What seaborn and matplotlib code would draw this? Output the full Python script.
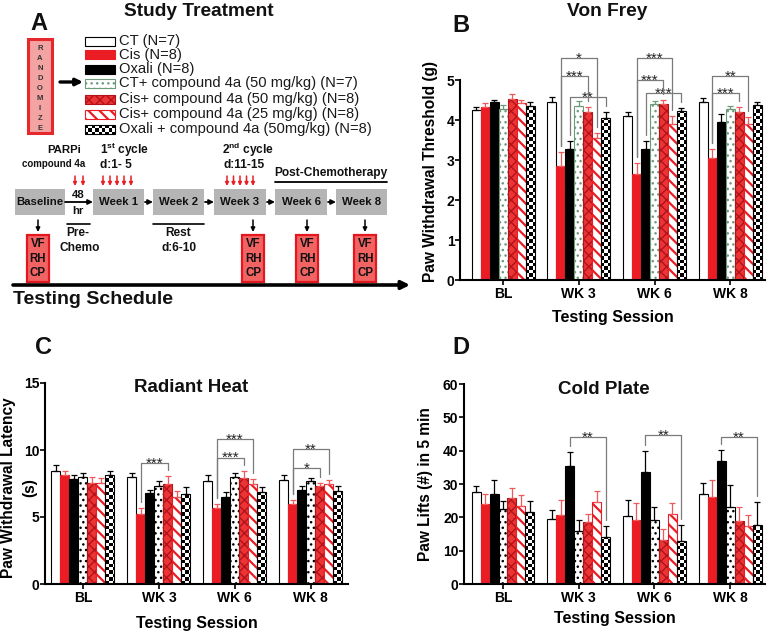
import math
import numpy as np
import pandas as pd
import matplotlib.pyplot as plt
from matplotlib.patches import Rectangle
import seaborn as sns

sessions = ["BL", "WK 3", "WK 6", "WK 8"]
groups = ["CT (N=7)", "Cis (N=8)", "Oxali (N=8)",
          "CT+ compound 4a (50 mg/kg) (N=7)",
          "Cis+ compound 4a (50 mg/kg) (N=8)",
          "Cis+ compound 4a (25 mg/kg) (N=8)",
          "Oxali + compound 4a (50mg/kg) (N=8)"]

# one row per session, one column per group
vf_mean = [[4.25, 4.32, 4.45, 4.27, 4.53, 4.42, 4.35],
           [4.46, 2.85, 3.27, 4.35, 4.20, 3.55, 4.06],
           [4.10, 2.65, 3.27, 4.40, 4.40, 3.90, 4.22],
           [4.44, 3.05, 3.96, 4.28, 4.20, 3.90, 4.38]]
vf_sem = [[0.08, 0.10, 0.05, 0.10, 0.11, 0.08, 0.09],
          [0.12, 0.35, 0.20, 0.13, 0.13, 0.12, 0.13],
          [0.10, 0.27, 0.20, 0.07, 0.10, 0.20, 0.08],
          [0.10, 0.22, 0.20, 0.06, 0.12, 0.17, 0.08]]
rh_mean = [[8.45, 8.10, 7.85, 8.00, 7.55, 7.55, 8.10],
           [8.00, 5.25, 6.80, 7.35, 7.50, 6.50, 6.75],
           [7.70, 5.65, 6.50, 8.00, 7.90, 7.50, 6.90],
           [7.75, 5.95, 7.00, 7.65, 7.35, 7.50, 6.95]]
rh_sem = [[0.40, 0.35, 0.30, 0.30, 0.40, 0.35, 0.30],
          [0.30, 0.40, 0.20, 0.35, 0.55, 0.45, 0.50],
          [0.40, 0.35, 0.35, 0.30, 0.50, 0.30, 0.35],
          [0.35, 0.35, 0.30, 0.25, 0.20, 0.25, 0.35]]
cp_mean = [[27.5, 24.0, 27.0, 22.5, 25.8, 23.3, 21.5],
           [19.5, 20.8, 35.5, 16.0, 18.5, 24.5, 14.0],
           [20.5, 19.3, 33.5, 19.2, 13.3, 21.0, 13.0],
           [27.0, 26.0, 36.8, 23.2, 19.0, 17.3, 17.7]]
cp_sem = [[2.0, 3.0, 4.2, 2.5, 3.0, 3.3, 3.5],
          [2.8, 4.3, 4.0, 3.2, 2.5, 3.3, 3.5],
          [4.6, 5.0, 6.5, 3.8, 3.3, 3.3, 4.8],
          [3.3, 5.2, 3.3, 6.5, 4.0, 3.3, 7.0]]

# significance brackets: (session, left group, right group, level, stars)
vf_sig = [(1, 1, 5, 5.54, "*"), (1, 1, 4, 5.10, "***"), (1, 2, 6, 4.58, "**"),
          (2, 1, 5, 5.54, "***"), (2, 1, 4, 5.00, "***"), (2, 2, 6, 4.67, "***"),
          (3, 1, 5, 5.10, "**"), (3, 1, 4, 4.67, "***")]
rh_sig = [(1, 1, 4, 9.05, "***"), (2, 1, 5, 10.8, "***"), (2, 1, 4, 9.43, "***"),
          (3, 1, 5, 10.05, "**"), (3, 1, 4, 8.64, "*")]
cp_sig = [(1, 2, 6, 44.1, "**"), (2, 2, 6, 44.6, "**"), (3, 2, 6, 44.1, "**")]

RED = "#ea1d25"
RED_ERR = "#ee5a5a"
DARK_RED = "#b3121a"
GREEN_DOT = "#6e9a7c"
W, H = 769, 637


def defaults():
    sns.set_theme(style="ticks")
    plt.rcParams['font.family'] = ['Liberation Sans', 'DejaVu Sans']
    plt.rcParams['font.weight'] = 'bold'
    plt.rcParams['axes.labelweight'] = 'bold'
    plt.rcParams['hatch.linewidth'] = 1.5
    plt.rcParams['mathtext.fontset'] = 'custom'
    plt.rcParams['mathtext.rm'] = 'Liberation Sans:bold'
    plt.rcParams['mathtext.bf'] = 'Liberation Sans:bold'


def styles(dot_color):
    return [dict(fc="white", ec="black", hatch=None),
            dict(fc=RED, ec=RED, hatch=None),
            dict(fc="black", ec="black", hatch=None),
            dict(fc="white", ec=dot_color, hatch="..."),
            dict(fc="#ec3434", ec=DARK_RED, hatch="xxx"),
            dict(fc="white", ec=RED, hatch="\\\\\\"),
            dict(fc="none", ec="black", hatch=None)]


def checker(ax, patch, cell=3.4):
    # checkerboard fill, clipped to the bar
    x0, x1 = ax.get_xlim()
    y0, y1 = ax.get_ylim()
    sx = abs(ax.bbox.width / (x1 - x0))
    sy = abs(ax.bbox.height / (y1 - y0))
    x, y, w, h = patch.get_x(), patch.get_y(), patch.get_width(), patch.get_height()
    nx = int(math.ceil(w * sx / cell)) + 1
    ny = int(math.ceil(h * sy / cell)) + 1
    board = np.indices((ny, nx)).sum(axis=0) % 2
    im = ax.imshow(board, cmap="gray", vmin=0, vmax=1, origin="lower", aspect="auto",
                   interpolation="nearest",
                   extent=[x, x + nx * cell / sx, y, y + ny * cell / sy],
                   zorder=patch.get_zorder() - 0.01)
    im.set_clip_path(patch)


def style_patch(ax, p, st):
    p.set_facecolor(st["fc"])
    p.set_edgecolor(st["ec"])
    p.set_linewidth(0.8)
    if st["hatch"]:
        p.set_hatch(st["hatch"])
        if hasattr(p, "set_hatch_linewidth"):
            p.set_hatch_linewidth(1.6 if "\\" in st["hatch"] else 1.0)
    if st["fc"] == "none":
        checker(ax, p)


def fig_rect(l, t, r, b):
    return [l / W, (H - b) / H, (r - l) / W, (b - t) / H]


def panel(fig, rect, xlim, means, sems, ylim, yticks, ylabel, sig, dot_color, ylab_xy, xlab_y):
    ax = fig.add_axes(fig_rect(*rect))
    df = pd.DataFrame([(s, g, means[i][j]) for i, s in enumerate(sessions)
                       for j, g in enumerate(groups)], columns=["session", "group", "value"])
    sns.barplot(data=df, x="session", y="value", hue="group", order=sessions,
                hue_order=groups, errorbar=None, width=0.83, legend=False, ax=ax)
    ax.set_xlim(*xlim)
    ax.set_ylim(*ylim)
    ax.set_autoscale_on(False)
    st = styles(dot_color)
    err_colors = ["black", RED_ERR, "black", dot_color, RED_ERR, RED_ERR, "black"]
    bars = list(ax.containers)
    for i, cont in enumerate(bars):
        for p in cont.patches:
            style_patch(ax, p, st[i])
        xs = [p.get_x() + p.get_width() / 2 for p in cont.patches]
        hs = [p.get_height() for p in cont.patches]
        err = [sems[s][i] for s in range(len(sessions))]
        ax.errorbar(xs, hs, yerr=[np.zeros(len(err)), err], fmt="none", ecolor=err_colors[i],
                    elinewidth=0.9, capsize=2, capthick=0.9, zorder=3)
    pad = 0.03 * (ylim[1] - ylim[0])
    for s, a, b, y, stars in sig:
        pa = bars[a].patches[s]
        pb = bars[b].patches[s]
        xa = pa.get_x() + pa.get_width() / 2
        xb = pb.get_x() + pb.get_width() / 2
        ya = means[s][a] + sems[s][a] + pad
        yb = means[s][b] + sems[s][b] + pad
        ax.plot([xa, xa, xb, xb], [ya, y, y, yb], color="#7a7a7a", lw=0.9, clip_on=False, zorder=4)
        ax.annotate(stars, ((xa + xb) / 2, y), xytext=(0, -3.3), textcoords="offset points",
                    ha="center", va="baseline", fontsize=11, fontweight="normal",
                    color="#222222", annotation_clip=False)
    ax.set_yticks(yticks)
    sns.despine(ax=ax)
    for side in ["left", "bottom"]:
        ax.spines[side].set_linewidth(1.5)
        ax.spines[side].set_color("black")
    ax.tick_params(axis="both", direction="out", length=3.5, width=1.2, color="black",
                   labelsize=10, labelcolor="black")
    ax.tick_params(axis="x", pad=1.5)
    ax.tick_params(axis="y", pad=0.5)
    ax.set_ylabel(ylabel, fontsize=11.2, color="black")
    ax.yaxis.set_label_coords(*ylab_xy)
    ax.set_xlabel("Testing Session", fontsize=11.5, color="black")
    ax.xaxis.set_label_coords(0.5, xlab_y)
    return ax


def arrow(ov, x0, y0, x1, y1, color="black", lw=1.2, ms=7):
    ov.annotate("", xy=(x1, y1), xytext=(x0, y0),
                arrowprops=dict(arrowstyle="-|>", color=color, lw=lw, mutation_scale=ms,
                                shrinkA=0, shrinkB=0))


def txt(ov, x, y, s, size, **kw):
    kw.setdefault("ha", "center")
    kw.setdefault("va", "center")
    kw.setdefault("color", "#111111")
    ov.text(x, y, s, fontsize=size, **kw)


def panel_a(ov):
    txt(ov, 39, 24, "A", 17)
    txt(ov, 199, 12, "Study Treatment", 13.8)
    ov.add_patch(Rectangle((28, 39), 24, 94, facecolor="#f4a3a3", edgecolor="#e5282c", lw=2.2))
    for k, ch in enumerate("RANDOMIZE"):
        txt(ov, 40, 48.5 + 10 * k, ch, 5.5, color="#333333")
    arrow(ov, 60, 82, 83, 82, lw=2.4, ms=10)

    # legend of the treatment groups
    st = styles(GREEN_DOT)
    rows = [41.5, 54.5, 69, 83.5, 99, 114, 129.5]
    for i, (g, y) in enumerate(zip(groups, rows)):
        p = Rectangle((85, y - 4.5), 30, 9)
        ov.add_patch(p)
        style_patch(ov, p, st[i])
        txt(ov, 119, y, g, 10.6, ha="left", fontweight="normal", color="#1a1a1a")

    # schedule
    txt(ov, 64, 150, "PARPi", 8.2)
    txt(ov, 54, 164, "compound 4a", 7)
    txt(ov, 125, 150, r"1$^{\mathrm{st}}$ cycle", 8.6)
    txt(ov, 116, 165, "d:1- 5", 8.6)
    txt(ov, 248, 150, r"2$^{\mathrm{nd}}$ cycle", 8.6)
    txt(ov, 244, 165, "d:11-15", 8.6)
    for x in [75, 83, 103, 110, 117, 124, 131, 227, 233.5, 240, 246.5, 253]:
        arrow(ov, x, 176, x, 186, color=RED, lw=1.1, ms=5)
    txt(ov, 331, 173, "Post-Chemotherapy", 8.6)
    ov.plot([275, 387], [182, 182], color="black", lw=1.3)

    boxes = [("Baseline", 15, 65), ("Week 1", 93, 144), ("Week 2", 153, 204),
             ("Week 3", 214, 266), ("Week 6", 275, 327), ("Week 8", 336, 387)]
    for name, l, r in boxes:
        ov.add_patch(Rectangle((l, 189), r - l, 26, facecolor="#b5b5b5", edgecolor="none"))
        txt(ov, (l + r) / 2, 202, name, 8.2)
    arrow(ov, 65, 202, 93, 202, lw=1.3, ms=7)
    for (_, _, r), (_, l, _) in zip(boxes[1:-1], boxes[2:]):
        arrow(ov, r + 1, 202, l, 202, lw=1.3, ms=7)
    txt(ov, 78, 194.5, "48", 8.2)
    txt(ov, 78, 210.5, "hr", 8.2)

    ov.plot([67, 90], [224, 224], color="black", lw=1.2)
    txt(ov, 78, 233, "Pre-", 8.6)
    txt(ov, 80, 248, "Chemo", 8.6)
    ov.plot([153, 204], [224, 224], color="black", lw=1.2)
    txt(ov, 178, 233, "Rest", 8.6)
    txt(ov, 179, 248, "d:6-10", 8.6)

    for l, r in [(27, 49), (242, 264), (296, 318), (354, 376)]:
        c = (l + r) / 2
        arrow(ov, c, 220, c, 232, lw=1.1, ms=6)
        ov.add_patch(Rectangle((l, 235), r - l, 47, facecolor="#f26464", edgecolor="#e3171f", lw=1.6))
        for y, s in zip([244, 258.5, 273], ["VF", "RH", "CP"]):
            txt(ov, c, y, s, 8.3)

    arrow(ov, 13, 285, 410, 285, lw=2.6, ms=12)
    txt(ov, 13, 300, "Testing Schedule", 14, ha="left")


def main():
    defaults()
    fig = plt.figure(figsize=(W / 100, H / 100), dpi=100)

    panel(fig, (460, 80, 765, 280), (-0.57, 3.46), vf_mean, vf_sem, (0, 5), range(0, 6),
          "Paw Withdrawal Threshold (g)", vf_sig, GREEN_DOT, (-0.072, 0.545), -0.15)
    ax_c = panel(fig, (45, 383, 348, 584), (-0.5, 3.49), rh_mean, rh_sem, (0, 15), [0, 5, 10, 15],
                 "Paw Withdrawal Latency", rh_sig, "black", (-0.095, 0.48), -0.16)
    # second line of the radiant heat y label sits between the tick labels
    ax_c.text(-0.027, 0.48, "(s)", transform=ax_c.transAxes, rotation=90, ha="right",
              va="center", fontsize=11.2, color="black")
    panel(fig, (464, 384, 765, 584), (-0.515, 3.46), cp_mean, cp_sem, (0, 60), range(0, 61, 10),
          "Paw Lifts (#) in 5 min", cp_sig, "black", (-0.103, 0.5), -0.135)

    ov = fig.add_axes([0, 0, 1, 1], zorder=10)
    ov.set_xlim(0, W)
    ov.set_ylim(H, 0)
    ov.set_autoscale_on(False)
    ov.axis("off")
    panel_a(ov)
    txt(ov, 461, 25, "B", 17)
    txt(ov, 607, 12, "Von Frey", 13.8)
    txt(ov, 44, 347, "C", 17)
    txt(ov, 191, 387, "Radiant Heat", 13.5)
    txt(ov, 461, 348, "D", 17)
    txt(ov, 604, 389, "Cold Plate", 13.5)

    fig.savefig("out.png", dpi=100)


if __name__ == "__main__":
    main()
